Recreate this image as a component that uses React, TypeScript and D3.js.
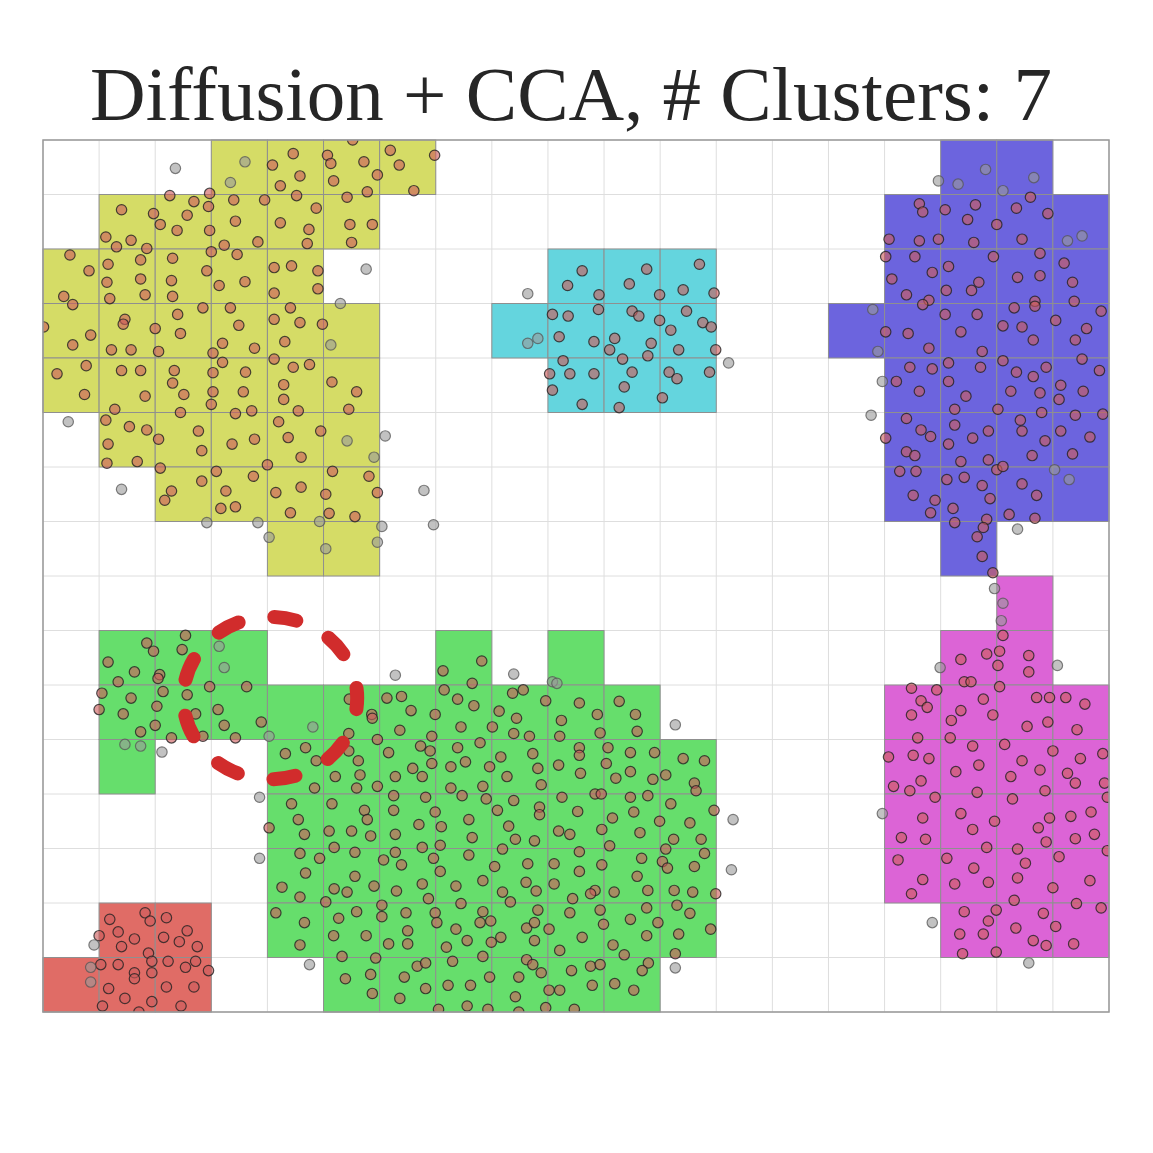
import React from 'react';
import * as d3 from 'd3';

const title = 'Diffusion + CCA, # Clusters: 7';
const nCols = 19;
const nRows = 16;

// cluster cells: [row, firstCol, lastCol]
const yellowCells = [[0, 3, 6], [1, 1, 5], [2, 0, 4], [3, 0, 5], [4, 0, 5], [5, 1, 5], [6, 2, 5], [7, 4, 5]];
const cyanCells = [[2, 9, 11], [3, 8, 11], [4, 9, 11]];
const blueCells = [[0, 16, 17], [1, 15, 18], [2, 15, 18], [3, 14, 18], [4, 15, 18], [5, 15, 18], [6, 15, 18], [7, 16, 16]];
const magentaCells = [[8, 17, 17], [9, 16, 17], [10, 15, 18], [11, 15, 18], [12, 15, 18], [13, 15, 18], [14, 16, 18]];
const greenCells = [[9, 1, 3], [9, 7, 7], [9, 9, 9], [10, 1, 10], [11, 1, 1], [11, 4, 11], [12, 4, 11], [13, 4, 11], [14, 4, 11], [15, 5, 10]];
const redCells = [[14, 1, 2], [15, 0, 2]];

const clusterColors = ['#d5dc66', '#64d5de', '#6c64de', '#dc64d6', '#66de6c', '#e06c66'];

// points in grid units [col, row]
const yellowPts = [[4.09,0.46],[4.46,0.25],[4.58,0.66],[4.23,0.84],[4.52,1.02],[2.26,1.02],[2.97,0.98],[2.69,1.13],[2.95,1.22],[3.40,1.10],[3.95,1.10],[1.40,1.28],[1.97,1.35],[2.57,1.38],[2.09,1.55],[2.39,1.66],[2.97,1.66],[3.43,1.49],[4.23,1.52],[4.74,1.64],[4.71,1.90],[3.83,1.87],[3.23,1.93],[1.12,1.78],[1.31,1.96],[1.57,1.84],[1.85,1.99],[3.00,2.05],[3.46,2.10],[0.48,2.11],[0.82,2.40],[1.16,2.28],[1.74,2.20],[2.31,2.17],[2.92,2.40],[1.14,2.61],[1.74,2.55],[2.29,2.58],[3.14,2.67],[3.60,2.60],[4.12,2.34],[4.43,2.31],[4.12,2.81],[0.37,2.87],[0.53,3.02],[1.19,2.91],[1.82,2.84],[2.31,2.87],[2.85,3.08],[3.34,3.08],[4.12,3.29],[4.41,3.08],[4.58,3.35],[0.01,3.43],[1.46,3.29],[1.43,3.38],[2.40,3.20],[2.00,3.46],[2.45,3.55],[3.49,3.40],[0.85,3.58],[0.53,3.76],[1.22,3.85],[1.57,3.85],[2.06,3.88],[3.20,3.73],[3.03,3.91],[3.77,3.82],[4.31,3.70],[4.12,4.02],[4.46,4.17],[4.75,4.12],[0.77,4.14],[0.25,4.29],[1.40,4.23],[1.74,4.23],[2.34,4.23],[3.20,4.08],[3.03,4.27],[3.61,4.26],[2.31,4.46],[2.51,4.67],[1.82,4.70],[0.74,4.67],[3.03,4.62],[3.57,4.62],[4.29,4.49],[4.29,4.76],[3.00,4.85],[3.43,5.02],[3.72,4.97],[4.55,4.97],[4.20,5.17],[1.28,4.94],[2.45,5.00],[1.12,5.14],[1.54,5.26],[1.85,5.32],[2.77,5.34],
  [5.52,0.0],[5.07,0.28],[5.13,0.43],[5.72,0.40],[6.19,0.19],[6.35,0.46],[5.96,0.64],[6.98,0.28],[5.18,0.75],[5.78,0.95],[6.61,0.93],[5.42,1.05],[4.87,1.25],[5.47,1.55],[5.87,1.55],[5.50,1.88],[4.90,2.40],[4.90,2.73],[4.98,3.38],[5.15,4.44],[5.59,4.62],[5.45,4.94],[4.95,5.34],
  [1.16,5.58],[2.06,5.49],[2.83,5.70],[3.37,5.58],[3.77,5.49],[4.37,5.46],[4.60,5.82],[1.14,5.93],[1.68,5.90],[2.09,6.02],[3.09,6.08],[4.00,5.96],[3.75,6.17],[2.83,6.26],[2.29,6.44],[2.17,6.61],[3.26,6.44],[4.15,6.47],[4.60,6.37],[3.17,6.76],[3.43,6.73],[4.41,6.84],
  [5.16,6.08],[5.81,6.17],[5.04,6.50],[5.96,6.47],[5.10,6.85],[5.56,6.91]];

const cyanPts = [[9.35,2.67],[9.08,3.20],[9.36,3.23],[9.20,3.61],[9.27,4.05],[9.03,4.29],[9.39,4.29],[9.08,4.59],[9.61,2.40],[9.91,2.84],[10.76,2.37],[10.45,2.64],[10.99,2.84],[11.41,2.75],[11.70,2.28],[11.96,2.81],[9.90,3.11],[10.50,3.14],[10.62,3.23],[10.99,3.31],[11.47,3.14],[11.76,3.35],[11.91,3.43],[11.19,3.49],[9.82,3.70],[10.19,3.64],[10.10,3.85],[10.84,3.73],[10.78,3.96],[11.33,3.85],[11.99,3.85],[9.82,4.29],[10.33,4.02],[10.50,4.26],[10.36,4.53],[11.16,4.26],[11.30,4.38],[11.88,4.26],[11.04,4.73],[9.61,4.85],[10.27,4.91]];

const bluePts = [[17.60,1.05],[15.62,1.17],[15.68,1.32],[16.08,1.28],[16.62,1.19],[16.48,1.46],[17.35,1.25],[17.91,1.35],[17.00,1.55],[15.08,1.82],[15.62,1.85],[15.96,1.82],[16.59,1.88],[17.45,1.82],[15.02,2.14],[15.54,2.14],[16.94,2.14],[17.77,2.08],[18.20,2.26],[16.14,2.32],[15.85,2.43],[15.13,2.55],[16.68,2.61],[16.10,2.76],[16.55,2.76],[17.37,2.52],[17.77,2.49],[18.35,2.61],[15.39,2.84],[15.79,2.94],[15.68,3.02],[17.68,2.96],[17.68,3.05],[18.38,2.96],[16.08,3.20],[16.65,3.20],[17.31,3.08],[17.11,3.41],[17.45,3.43],[18.05,3.31],[18.86,3.14],[15.02,3.52],[15.42,3.55],[16.36,3.52],[17.65,3.67],[18.40,3.67],[18.60,3.46],[15.79,3.82],[16.74,3.88],[15.45,4.17],[15.85,4.20],[16.14,4.09],[16.71,4.17],[17.11,4.05],[17.35,4.26],[17.65,4.34],[17.88,4.17],[18.52,4.02],[18.83,4.23],[15.21,4.43],[15.62,4.61],[16.14,4.43],[16.45,4.70],[17.25,4.61],[17.77,4.64],[18.14,4.50],[18.11,4.76],[18.54,4.61],[15.39,5.11],[16.25,4.94],[17.02,4.94],[17.42,5.14],[17.80,5.00],[18.40,5.05],[18.89,5.03],[16.25,5.23],[15.65,5.32],[16.85,5.34],[17.45,5.34],[18.14,5.34],
  [15.82,5.44],[15.02,5.47],[16.14,5.58],[16.57,5.47],[17.86,5.52],[18.66,5.45],[15.39,5.72],[15.54,5.79],[16.36,5.90],[16.85,5.87],[17.63,5.79],[18.35,5.76],[15.27,6.08],[15.56,6.08],[17.00,6.05],[17.11,5.99],[16.11,6.23],[16.42,6.19],[16.74,6.34],[17.45,6.31],[15.51,6.52],[15.90,6.61],[16.88,6.58],[17.71,6.52],[15.82,6.84],[16.22,6.76],[17.22,6.87],[17.68,6.94],[16.25,7.02],[16.82,6.96],[16.76,7.11],[16.65,7.28],[16.74,7.64],[16.93,7.94]];

const magentaPts = [[17.11,9.09],[17.05,9.38],[16.82,9.43],[17.02,9.64],[17.57,9.46],[17.57,9.76],[16.36,9.53],[16.42,9.94],[16.54,9.94],[17.05,10.03],[15.48,10.06],[15.93,10.09],[15.65,10.29],[15.76,10.41],[16.76,10.26],[17.71,10.23],[17.94,10.23],[18.23,10.23],[18.57,10.35],[16.36,10.47],[16.93,10.55],[15.48,10.55],
  [16.19,10.65],[17.54,10.76],[17.91,10.68],[18.43,10.82],[15.59,10.97],[16.17,10.97],[16.57,11.12],[17.14,11.09],[18.00,11.21],[18.89,11.26],[15.07,11.32],[15.51,11.29],[15.79,11.35],[16.27,11.59],[16.68,11.47],[17.45,11.39],[17.77,11.56],[18.26,11.62],[18.49,11.35],[17.25,11.68],[18.40,11.80],[18.92,11.80],[15.16,11.86],[15.45,11.94],[15.65,11.76],[15.90,12.06],[16.65,11.97],[17.28,12.09],[17.86,11.94],[18.97,12.06],[15.68,12.44],[16.36,12.36],[16.96,12.50],[16.57,12.65],[17.74,12.62],[17.94,12.44],[18.32,12.41],[18.68,12.33],[15.30,12.80],[15.73,12.83],[17.88,12.88],[18.40,12.82],[18.74,12.74],[16.82,12.98],[17.37,13.01],[18.97,13.04],[15.24,13.21],[16.11,13.18],[16.59,13.36],[17.51,13.27],[18.11,13.15],[15.68,13.57],[15.48,13.83],[16.25,13.65],[16.85,13.62],[17.37,13.54],[18.00,13.72],[18.66,13.59],[17.31,13.95],[18.42,14.01],[18.86,14.09],[16.42,14.16],[16.99,14.13],[16.85,14.33],[17.83,14.19],[17.34,14.46],[18.05,14.43],[16.34,14.57],[16.76,14.57],[17.65,14.69],[17.88,14.78],[18.37,14.75],[16.39,14.93],[16.99,14.90]];

const greenPts = [[2.54,9.09],[1.85,9.23],[1.97,9.38],[2.48,9.35],[1.16,9.58],[1.63,9.76],[1.34,9.94],[2.08,9.81],[2.05,9.88],[1.05,10.15],[1.57,10.24],[2.14,10.12],[2.57,10.18],[2.97,10.03],[3.63,10.03],[2.03,10.39],[3.12,10.45],[1.00,10.45],[1.43,10.53],[2.72,10.53],
  [2.00,10.74],[1.74,10.86],[3.23,10.74],[3.89,10.68],[2.29,10.97],[2.85,10.94],[3.43,10.97],[4.32,11.26],[4.68,11.15],[4.43,12.18],[4.55,12.47],[4.66,12.74],[4.03,12.62],[4.58,13.09],[4.68,13.45],[4.26,13.71],[4.58,13.89],[4.15,14.18],[4.66,14.36],[4.58,14.77],
  [7.13,9.74],[7.82,9.56],[7.15,10.09],[7.65,9.97],[7.39,10.26],[7.68,10.38],[8.37,10.15],[8.56,10.09],[8.96,10.29],[6.13,10.24],[6.39,10.21],[6.56,10.47],[6.99,10.54],[8.13,10.48],[5.46,10.26],[5.86,10.54],
  [9.56,10.33],[9.88,10.54],[10.27,10.30],[10.56,10.54],
  [5.45,10.89],[5.87,10.61],[8.44,10.61],[6.36,10.83],[5.96,11.00],[6.93,10.94],[7.45,10.77],[8.01,10.77],[8.39,10.89],[8.67,10.94],[9.21,10.94],[9.24,10.65],[4.87,11.39],[5.45,11.21],[5.62,11.39],[6.16,11.24],[6.73,11.12],[6.90,11.21],[6.93,11.44],[7.39,11.15],[7.79,11.06],[7.53,11.41],[7.27,11.50],[7.96,11.50],[8.16,11.32],[8.73,11.26],[8.82,11.53],[9.19,11.47],[5.21,11.68],[5.65,11.65],[6.28,11.68],[6.59,11.53],[6.76,11.68],[8.27,11.68],[8.88,11.83],[4.84,11.89],[5.59,11.89],[5.96,11.86],[7.27,11.89],[7.84,11.86],[6.25,12.03],[6.82,12.06],[7.47,12.03],[7.90,12.09],[8.39,12.12],[8.85,12.24],[8.85,12.38],[9.25,12.06],[5.15,12.18],[5.73,12.30],[5.78,12.47],[6.25,12.30],[6.99,12.33],[8.10,12.30],[7.59,12.47],[6.70,12.56],[7.10,12.60],[8.30,12.59],[5.10,12.68],[5.50,12.68],[5.84,12.77],[6.28,12.74],[7.65,12.80],[8.42,12.83],[8.76,12.86],[9.19,12.68],[9.39,12.74],[5.19,12.98],[5.56,13.07],[6.28,13.07],[6.76,12.98],[7.08,12.94],[8.19,13.01],[4.93,13.18],[6.07,13.21],[6.39,13.30],[6.96,13.18],[7.59,13.12],[8.05,13.33],[8.64,13.28],[9.11,13.28],[5.56,13.51],[7.08,13.42],[5.90,13.69],[6.76,13.65],[7.36,13.69],[7.84,13.59],[8.61,13.62],[9.11,13.65],[5.19,13.74],[5.42,13.80],[6.30,13.78],[8.19,13.80],[8.79,13.78],[6.87,13.92],[5.04,13.98],[6.04,14.04],[7.45,14.01],[8.33,13.98],[5.59,14.16],[6.04,14.25],[6.47,14.18],[6.99,14.18],[7.84,14.16],[8.82,14.13],[9.39,14.18],[5.27,14.28],[7.02,14.36],[7.79,14.36],[7.98,14.33],[8.62,14.46],[8.76,14.36],[6.50,14.51],[7.36,14.48],[9.02,14.48],[5.18,14.60],[5.76,14.60],[7.56,14.69],[7.99,14.72],[8.16,14.63],[8.76,14.69],[6.16,14.75],[6.50,14.75],[7.19,14.81],[9.21,14.87],[5.33,14.98],[5.93,15.01],[7.84,14.98],[8.62,15.04],[8.73,15.13],[8.88,15.28],[6.67,15.16],[6.82,15.10],[7.30,15.07],[5.39,15.39],[5.84,15.31],[6.44,15.36],[7.96,15.36],[8.48,15.36],[7.22,15.51],[7.62,15.51],[6.82,15.57],[5.87,15.66],[6.36,15.75],[8.42,15.72],[9.02,15.60],[9.21,15.60],[7.56,15.89],[7.05,15.95],[7.93,15.95],[8.96,15.92],[8.48,16.00],
  [9.93,10.88],[10.59,10.85],[9.56,11.15],[9.56,11.29],[10.07,11.15],[10.04,11.44],[10.47,11.24],[10.90,11.24],[9.58,11.62],[10.21,11.71],[10.47,11.59],[10.87,11.73],[11.10,11.65],[11.41,11.35],[11.79,11.39],[11.61,11.80],[11.64,11.94],[9.84,12.00],[9.95,12.00],[10.47,12.06],[10.78,12.03],[11.19,12.18],[11.96,12.30],[9.53,12.32],[10.15,12.44],[10.53,12.33],[10.99,12.50],[11.53,12.53],[9.96,12.65],[10.64,12.71],[11.24,12.83],[11.73,12.83],[10.10,12.95],[11.10,13.01],[11.79,13.09],[9.56,13.06],[10.67,13.18],[11.04,13.24],[11.13,13.36],[11.61,13.33],[9.96,13.30],[9.56,13.42],[10.59,13.51],[11.99,13.83],[9.84,13.77],[9.76,13.83],[10.18,13.80],[10.78,13.77],[11.25,13.77],[11.58,13.80],[9.44,13.92],[11.30,14.04],[9.93,14.13],[10.76,14.09],[11.53,14.19],[9.99,14.39],[10.47,14.30],[10.96,14.36],[11.90,14.48],[9.61,14.63],[10.76,14.60],[11.33,14.57],[10.16,14.77],[10.36,14.95],[11.27,14.93],[9.76,15.16],[9.93,15.13],[9.42,15.24],[10.79,15.10],[10.68,15.24],[9.79,15.51],[10.19,15.48],[10.53,15.60],[9.47,15.95]];

const redPts = [[1.82,14.18],[1.91,14.33],[2.20,14.27],[1.19,14.30],[1.34,14.53],[1.00,14.60],[1.63,14.66],[1.40,14.80],[2.15,14.63],[2.57,14.51],[2.43,14.71],[2.75,14.80],[1.88,14.92],[1.94,15.07],[2.23,15.07],[2.72,15.07],[2.54,15.18],[2.95,15.24],[1.03,15.13],[1.34,15.13],[1.63,15.28],[1.63,15.39],[1.94,15.28],[1.17,15.57],[2.20,15.54],[2.69,15.54],[1.46,15.75],[1.94,15.81],[1.06,15.89],[2.46,15.89],[1.71,16.00]];

const noisePts = [[2.36,0.52],[3.60,0.40],[3.34,0.78],[0.45,5.17],[5.76,2.37],[5.30,3.00],[5.13,3.76],[8.64,2.82],[8.82,3.64],[8.64,3.73],[12.22,4.09],[15.96,0.75],[16.31,0.81],[16.80,0.54],[17.11,0.93],[17.66,0.69],[18.26,1.85],[18.52,1.76],[14.79,3.11],[14.88,3.88],[14.96,4.43],[14.76,5.05],[18.03,6.05],[18.29,6.23],[17.37,7.14],[16.96,8.23],[17.11,8.50],[17.08,8.82],[15.99,9.68],[18.08,9.64],[14.96,12.36],[15.85,14.36],[17.57,15.10],[1.40,6.41],[2.92,7.02],[3.83,7.02],[4.03,7.29],[5.42,5.52],[6.10,5.43],[5.90,5.82],[6.79,6.43],[4.93,7.00],[6.04,7.09],[6.96,7.06],[5.04,7.50],[5.96,7.38],[6.28,9.82],[8.39,9.80],[9.08,9.94],[9.16,9.97],[3.14,9.29],[3.23,9.68],[4.03,10.94],[1.46,11.09],[1.74,11.12],[2.12,11.23],[3.86,12.06],[3.86,13.18],[4.75,15.13],[0.91,14.77],[0.85,15.18],[0.85,15.45],[4.81,10.77],[11.27,10.73],[12.30,12.47],[12.27,13.39],[11.27,15.19]];

// dashed annotation ellipse, grid units
const markCenter = [4.05, 10.24];
const markRadii = [1.55, 1.49];
const markDashes = 9;

const W = 1153;
const H = 1153;
const margin = { top: 140, right: 44, bottom: 141, left: 43 };

export default function App() {
  const x = d3.scaleLinear().domain([0, nCols]).range([margin.left, W - margin.right]);
  const y = d3.scaleLinear().domain([0, nRows]).range([margin.top, H - margin.bottom]);

  const clusters = [yellowCells, cyanCells, blueCells, magentaCells, greenCells, redCells];
  const cells: { c: number; r: number; color: string }[] = [];
  clusters.forEach((runs, i) => {
    runs.forEach(([r, c0, c1]) => {
      d3.range(c0, c1 + 1).forEach(c => cells.push({ c, r, color: clusterColors[i] }));
    });
  });

  const memberPts = [...yellowPts, ...cyanPts, ...bluePts, ...magentaPts, ...greenPts, ...redPts];

  // ellipse dash pattern, one dash centred on the right-most point
  const rx = x(markCenter[0] + markRadii[0]) - x(markCenter[0]);
  const ry = y(markCenter[1] + markRadii[1]) - y(markCenter[1]);
  const h = ((rx - ry) / (rx + ry)) ** 2;
  const perim = Math.PI * (rx + ry) * (1 + (3 * h) / (10 + Math.sqrt(4 - 3 * h)));
  const period = perim / markDashes;
  const dash = period * 0.38;

  return (
    <svg width={W} height={H} style={{ position: 'absolute', left: 0, top: 0, background: '#fff' }}>
      <defs>
        <clipPath id="plot">
          <rect x={x(0)} y={y(0)} width={x(nCols) - x(0)} height={y(nRows) - y(0)} />
        </clipPath>
      </defs>
      <text x={571} y={120} textAnchor="middle" fontFamily="'Liberation Serif', 'Times New Roman', serif"
        fontSize={77} fill="#262626">{title}</text>

      <g stroke="#dedede" strokeWidth={1}>
        {d3.range(0, nCols + 1).map(c => (
          <line key={'v' + c} x1={x(c)} x2={x(c)} y1={y(0)} y2={y(nRows)} />
        ))}
        {d3.range(0, nRows + 1).map(r => (
          <line key={'h' + r} x1={x(0)} x2={x(nCols)} y1={y(r)} y2={y(r)} />
        ))}
      </g>

      <g stroke="#8f8f8f" strokeWidth={1}>
        {cells.map((d, i) => (
          <rect key={i} x={x(d.c)} y={y(d.r)} width={x(d.c + 1) - x(d.c)} height={y(d.r + 1) - y(d.r)} fill={d.color} />
        ))}
      </g>

      <g clipPath="url(#plot)">
        {memberPts.map((p, i) => (
          <circle key={'m' + i} cx={x(p[0])} cy={y(p[1])} r={5.2} fill="#cd5c5c" fillOpacity={0.62}
            stroke="#222" strokeOpacity={0.8} strokeWidth={1.2} />
        ))}
        {noisePts.map((p, i) => (
          <circle key={'n' + i} cx={x(p[0])} cy={y(p[1])} r={5.2} fill="#9a9a9a" fillOpacity={0.6}
            stroke="#555" strokeOpacity={0.75} strokeWidth={1.2} />
        ))}
      </g>

      <rect x={x(0)} y={y(0)} width={x(nCols) - x(0)} height={y(nRows) - y(0)} fill="none" stroke="#999" strokeWidth={1.5} />

      <ellipse cx={x(markCenter[0])} cy={y(markCenter[1])} rx={rx} ry={ry} fill="none" stroke="#d12c2c"
        strokeWidth={14} strokeLinecap="round" strokeDasharray={`${dash} ${period - dash}`} strokeDashoffset={dash / 2} />
    </svg>
  );
}
